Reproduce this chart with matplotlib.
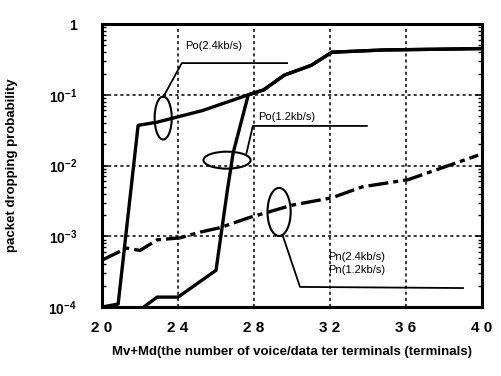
import matplotlib
matplotlib.use('Agg')
import matplotlib.pyplot as plt
from matplotlib.patches import Ellipse
from matplotlib.ticker import NullFormatter

plt.rcParams['font.family'] = ['Liberation Sans', 'DejaVu Sans']
plt.rcParams['mathtext.fontset'] = 'custom'
plt.rcParams['mathtext.rm'] = 'Liberation Sans:bold'
plt.rcParams['mathtext.it'] = 'Liberation Sans:bold'

# Po(2.4kb/s): packet dropping prob. vs number of terminals
po24_x = [20.0, 20.85, 21.9, 22.9, 25.3, 27.7, 28.5, 29.6, 31.0, 32.1, 34.8, 40.0]
po24_y = [1e-4, 1.1e-4, 0.037, 0.041, 0.06, 0.10, 0.117, 0.19, 0.26, 0.40, 0.43, 0.45]

# Po(1.2kb/s)
po12_x = [22.2, 22.9, 24.0, 26.0, 26.6, 26.9, 27.7, 28.5, 29.6, 31.0, 32.1, 34.8, 40.0]
po12_y = [1e-4, 1.38e-4, 1.38e-4, 3.3e-4, 4.5e-3, 0.015, 0.10, 0.117, 0.19, 0.26, 0.40, 0.43, 0.45]

# Pn(2.4kb/s) and Pn(1.2kb/s) (overlapping)
pn_x = [20.0, 21.3, 22.0, 22.9, 24.1, 25.2, 26.2, 27.7, 30.0, 32.1, 33.7, 36.1, 39.8]
pn_y = [4.6e-4, 6.8e-4, 6.3e-4, 8.9e-4, 9.5e-4, 1.15e-3, 1.32e-3, 1.82e-3,
        2.75e-3, 3.5e-3, 5.0e-3, 6.3e-3, 1.4e-2]

x_ticks = [20, 24, 28, 32, 36, 40]
x_labels = ['2 0', '2 4', '2 8', '3 2', '3 6', '4 0']
y_ticks = [1e-4, 1e-3, 1e-2, 1e-1, 1]
y_labels = [r'$10^{-4}$', r'$10^{-3}$', r'$10^{-2}$', r'$10^{-1}$', '1']

fig = plt.figure(figsize=(5.01, 3.76), dpi=100)
ax = fig.add_axes([0.2036, 0.1835, 0.7585, 0.7525])

ax.plot(po24_x, po24_y, color='black', lw=2.4, solid_capstyle='butt')
ax.plot(po12_x, po12_y, color='black', lw=2.4, solid_capstyle='butt')
ax.plot(pn_x, pn_y, color='black', lw=2.4, linestyle=(0, (6, 1.5, 1.5, 1.5)))

ax.set_yscale('log')
ax.set_xlim(20, 40)
ax.set_ylim(1e-4, 1)
ax.set_xticks(x_ticks)
ax.set_xticklabels(x_labels, fontsize=11, fontweight='bold')
ax.set_yticks(y_ticks)
ax.set_yticklabels(y_labels, fontsize=10, fontweight='bold')
ax.yaxis.set_minor_formatter(NullFormatter())
ax.tick_params(which='both', direction='in', left=True, right=True, top=False)
ax.tick_params(axis='x', length=0, pad=10)
ax.tick_params(axis='y', which='major', length=4, width=1.2, pad=18)
ax.tick_params(axis='y', which='minor', length=3, width=1.0)
ax.grid(True, which='major', color='black', linestyle=(0, (2, 2)), lw=1.1)
for s in ax.spines.values():
    s.set_linewidth(2.2)

ax.set_xlabel('Mv+Md(the number of voice/data ter terminals (terminals)',
              fontsize=9.5, fontweight='bold', labelpad=8)
ax.set_ylabel('packet dropping probability', fontsize=9.5, fontweight='bold', labelpad=22)

tr = ax.transAxes
# Po(2.4kb/s) label
ax.text(0.218, 0.922, 'Po(2.4kb/s)', transform=tr, fontsize=8, va='center')
ax.plot([0.161, 0.21, 0.487], [0.742, 0.862, 0.862], transform=tr, color='black', lw=1.3)
ax.add_patch(Ellipse((0.161, 0.668), 0.045, 0.152, transform=tr, fill=False, lw=1.5))
# Po(1.2kb/s) label
ax.text(0.41, 0.672, 'Po(1.2kb/s)', transform=tr, fontsize=8, va='center')
ax.plot([0.379, 0.397, 0.697], [0.537, 0.64, 0.64], transform=tr, color='black', lw=1.3)
ax.add_patch(Ellipse((0.329, 0.519), 0.124, 0.06, transform=tr, fill=False, lw=1.5))
# Pn label
ax.text(0.595, 0.177, 'Pn(2.4kb/s)', transform=tr, fontsize=8, va='center')
ax.text(0.595, 0.131, 'Pn(1.2kb/s)', transform=tr, fontsize=8, va='center')
ax.plot([0.476, 0.521, 0.95], [0.251, 0.071, 0.067], transform=tr, color='black', lw=1.3)
ax.add_patch(Ellipse((0.466, 0.336), 0.061, 0.17, transform=tr, fill=False, lw=1.5))

fig.savefig('out.png', dpi=100)
